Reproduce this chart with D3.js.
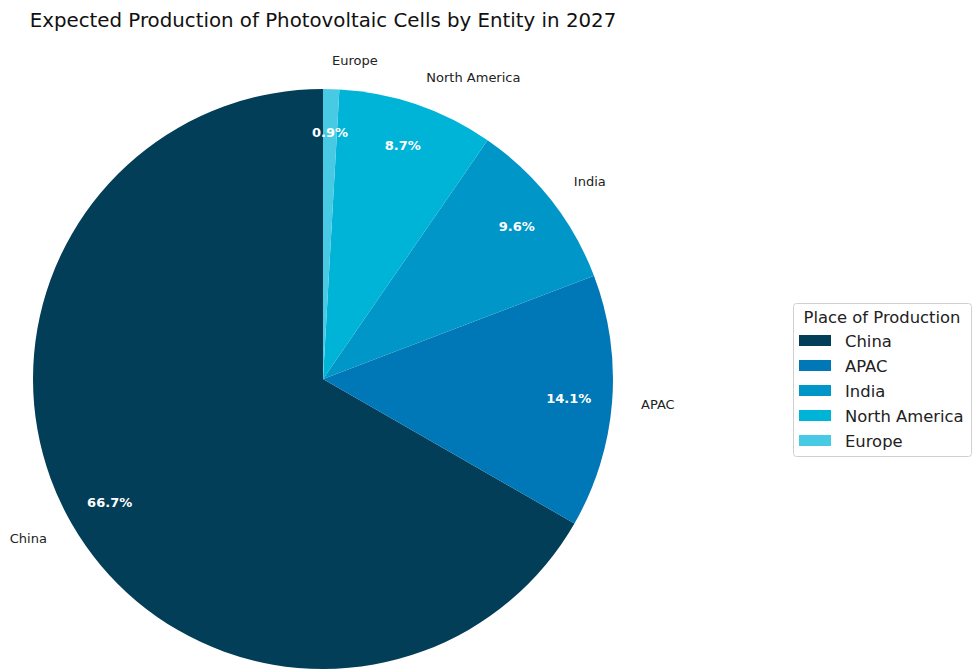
<!DOCTYPE html>
<html><head><meta charset="utf-8">
<script src="https://cdn.jsdelivr.net/npm/d3@7"></script>
<style>body{margin:0;background:#fff;} svg{display:block;font-family:"DejaVu Sans",sans-serif;}</style>
</head><body>
<svg id="c" width="973" height="669"></svg>
<script>
const categories = ["China", "APAC", "India", "North America", "Europe"];
const values = [66.7, 14.1, 9.6, 8.7, 0.9];
const colors = ["#023e58", "#0077b6", "#0096c7", "#00b4d8", "#48cae4"];
const title = "Expected Production of Photovoltaic Cells by Entity in 2027";
const legendTitle = "Place of Production";

const svg = d3.select("#c");
const cx = 323, cy = 379, R = 290;
const data = categories.map((c, i) => ({cat: c, value: values[i], color: colors[i]}));

const pie = d3.pie().value(d => d.value).sort(null).startAngle(0).endAngle(-2 * Math.PI);
const arcs = pie(data);
const arc = d3.arc().innerRadius(0).outerRadius(R);
const g = svg.append("g").attr("transform", `translate(${cx},${cy})`);

g.selectAll("path").data(arcs).enter().append("path")
  .attr("d", arc).attr("fill", d => d.data.color);

function pos(d, r) {
  const a = (d.startAngle + d.endAngle) / 2;
  return [r * Math.sin(a), -r * Math.cos(a)];
}
g.selectAll("text.lab").data(arcs).enter().append("text")
  .attr("class", "lab")
  .attr("x", d => pos(d, R * 1.1)[0])
  .attr("y", d => pos(d, R * 1.1)[1])
  .attr("text-anchor", d => pos(d, 1)[0] < 0 ? "end" : "start")
  .attr("dominant-baseline", "central")
  .attr("font-size", 13).attr("fill", "#222")
  .text(d => d.data.cat);
g.selectAll("text.pct").data(arcs).enter().append("text")
  .attr("class", "pct")
  .attr("x", d => pos(d, R * 0.85)[0])
  .attr("y", d => pos(d, R * 0.85)[1])
  .attr("text-anchor", "middle")
  .attr("dominant-baseline", "central")
  .attr("font-size", 13).attr("font-weight", "bold").attr("fill", "#fff")
  .text(d => d.data.value.toFixed(1) + "%");

svg.append("text").attr("x", cx).attr("y", 27).attr("text-anchor", "middle")
  .attr("font-size", 19.8).attr("fill", "#111").text(title);

const lg = svg.append("g").attr("transform", "translate(793,303)");
lg.append("rect").attr("x", 0.5).attr("y", 0.5).attr("width", 178).attr("height", 153)
  .attr("rx", 3).attr("fill", "#fff").attr("stroke", "#d0d0d0");
lg.append("text").attr("x", 89).attr("y", 14).attr("text-anchor", "middle")
  .attr("dominant-baseline", "central").attr("font-size", 16.4).attr("fill", "#222").text(legendTitle);
const rows = lg.selectAll("g.r").data(data).enter().append("g")
  .attr("transform", (d, i) => `translate(0,${38 + i * 25})`);
rows.append("rect").attr("x", 6).attr("y", -6).attr("width", 32).attr("height", 11).attr("fill", d => d.color);
rows.append("text").attr("x", 52).attr("y", 0).attr("dominant-baseline", "central")
  .attr("font-size", 16.4).attr("fill", "#222").text(d => d.cat);
</script>
</body></html>
